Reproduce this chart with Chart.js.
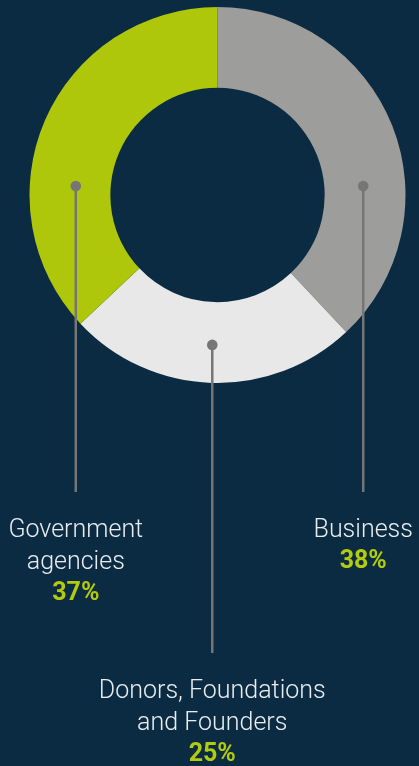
<!DOCTYPE html>
<html>
<head>
<meta charset="utf-8">
<script src="https://cdn.jsdelivr.net/npm/chart.js@4.4.1/dist/chart.umd.min.js"></script>
<style>
  html, body { margin: 0; padding: 0; background: #0b2b43; }
  #wrap { position: relative; width: 419px; height: 766px; }
</style>
</head>
<body>
<div id="wrap"><canvas id="fundingChart"></canvas></div>
<script>
// Funding sources, clockwise from the top
const categories = ['Business', 'Donors, Foundations and Founders', 'Government agencies'];
const labelLines = [['Business'], ['Donors, Foundations', 'and Founders'], ['Government', 'agencies']];
const shares = [38, 25, 37];
const sliceColors = ['#9d9d9b', '#e8e8e8', '#afc70b'];

// Callout placement: angle (deg, 0 = right, clockwise) of the dot and baseline of the first text line
const callouts = [
  { angle: -3.5, radius: 146, textY: 537 },
  { angle: 92, radius: 150, textY: 698 },
  { angle: 183.6, radius: 142, textY: 537 }
];

const calloutPlugin = {
  id: 'callouts',
  afterDraw(chart) {
    const ctx = chart.ctx;
    const meta = chart.getDatasetMeta(0);
    meta.data.forEach((arc, i) => {
      const c = callouts[i];
      const a = c.angle * Math.PI / 180;
      const x = arc.x + Math.cos(a) * c.radius;
      const y = arc.y + Math.sin(a) * c.radius;
      const lineEnd = c.textY - 45;

      ctx.save();
      ctx.strokeStyle = '#767676';
      ctx.lineWidth = 2.5;
      ctx.beginPath();
      ctx.moveTo(x, y);
      ctx.lineTo(x, lineEnd);
      ctx.stroke();
      ctx.fillStyle = '#767676';
      ctx.beginPath();
      ctx.arc(x, y, 5.3, 0, Math.PI * 2);
      ctx.fill();

      ctx.textAlign = 'center';
      ctx.textBaseline = 'alphabetic';
      ctx.fillStyle = '#e9edf0';
      ctx.font = '300 25px Roboto';
      let ty = c.textY;
      labelLines[i].forEach(line => {
        ctx.fillText(line, x, ty);
        ty += 32;
      });
      ctx.fillStyle = '#b3cb0c';
      ctx.font = '700 25px Roboto';
      ctx.fillText(shares[i] + '%', x, ty - 1);
      ctx.restore();
    });
  }
};

new Chart(document.getElementById('fundingChart'), {
  type: 'doughnut',
  data: {
    labels: categories,
    datasets: [{
      data: shares,
      backgroundColor: sliceColors,
      borderWidth: 0
    }]
  },
  options: {
    responsive: true,
    maintainAspectRatio: false,
    animation: false,
    cutout: '57%',
    layout: {
      padding: { left: 29.5, right: 13.5, top: 7, bottom: 383 }
    },
    plugins: {
      legend: { display: false },
      tooltip: { enabled: false }
    }
  },
  plugins: [calloutPlugin]
});
</script>
</body>
</html>
